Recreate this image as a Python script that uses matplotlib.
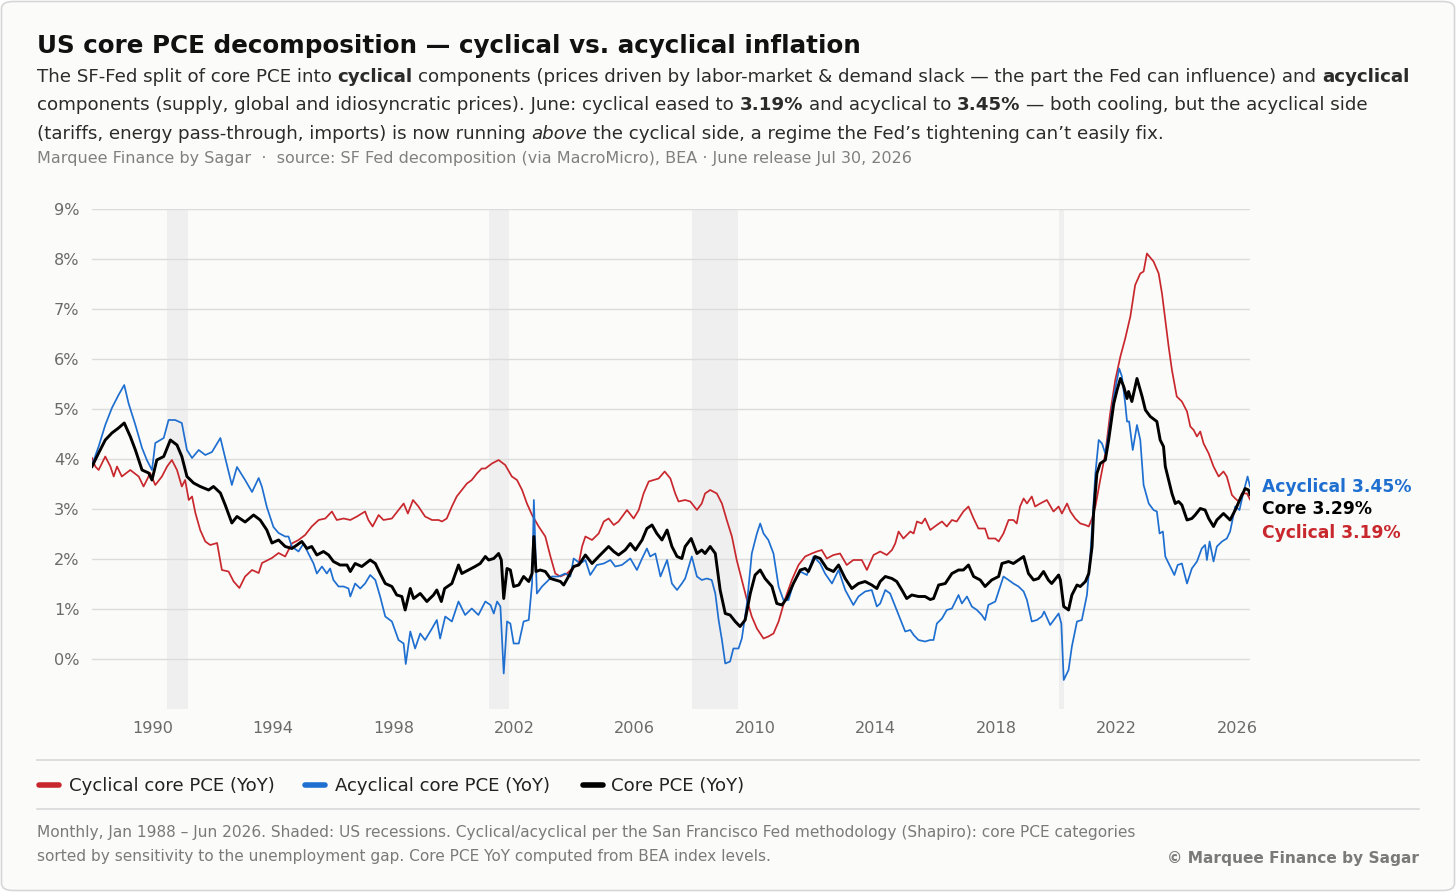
import matplotlib
matplotlib.use("Agg")
import matplotlib.pyplot as plt
from matplotlib.patches import FancyBboxPatch
from matplotlib.lines import Line2D

plt.rcParams["font.family"] = ["DejaVu Sans"]

# ---------------- data ----------------
cyc_years = [
    1988.00, 1988.11, 1988.22, 1988.44, 1988.61, 1988.72, 1988.83, 1988.99, 1989.27, 1989.55, 1989.71, 1989.82, 1989.93,
    1990.10, 1990.32, 1990.49, 1990.65, 1990.82, 1990.98, 1991.09, 1991.21, 1991.32, 1991.43, 1991.59, 1991.76, 1991.92,
    1992.15, 1992.31, 1992.53, 1992.70, 1992.89, 1993.08, 1993.31, 1993.53, 1993.64, 1993.97, 1994.19,
    1994.41, 1994.63, 1994.85, 1995.07, 1995.29, 1995.52, 1995.74, 1995.96, 1996.12, 1996.35, 1996.57, 1996.79, 1997.06,
    1997.17, 1997.31, 1997.51, 1997.67, 1997.95, 1998.17, 1998.34, 1998.48, 1998.65, 1998.83, 1999.05, 1999.28, 1999.50,
    1999.61, 1999.77, 1999.94, 2000.10, 2000.27, 2000.44, 2000.60, 2000.77, 2000.93,
    2001.05, 2001.27, 2001.49, 2001.71, 2001.93, 2002.10, 2002.27, 2002.43, 2002.60, 2002.82, 2003.04, 2003.21, 2003.37,
    2003.54, 2003.76, 2003.93, 2004.15, 2004.26, 2004.37, 2004.59, 2004.81, 2004.98, 2005.14, 2005.31, 2005.47, 2005.75,
    2005.97, 2006.14, 2006.30, 2006.47, 2006.63, 2006.80, 2007.00, 2007.19, 2007.35, 2007.46,
    2007.68, 2007.85, 2008.07, 2008.23, 2008.34, 2008.51, 2008.73, 2008.90, 2009.06, 2009.23, 2009.39, 2009.56, 2009.73,
    2009.89, 2010.06, 2010.28, 2010.44, 2010.61, 2010.78, 2011.00, 2011.22, 2011.44, 2011.66, 2011.88, 2012.05, 2012.21,
    2012.38, 2012.60, 2012.82, 2013.04, 2013.26, 2013.54, 2013.71, 2013.93,
    2014.15, 2014.37, 2014.54, 2014.65, 2014.76, 2014.92, 2015.15, 2015.26, 2015.37, 2015.53, 2015.64, 2015.81, 2016.03,
    2016.20, 2016.36, 2016.53, 2016.69, 2016.91, 2017.08, 2017.25, 2017.41, 2017.63, 2017.74, 2017.97, 2018.08, 2018.24,
    2018.41, 2018.57, 2018.68, 2018.79, 2018.91, 2019.02, 2019.18, 2019.29, 2019.46, 2019.68, 2019.90,
    2020.07, 2020.18, 2020.35, 2020.46, 2020.62, 2020.79, 2020.96, 2021.07, 2021.18, 2021.29, 2021.45, 2021.62, 2021.78,
    2021.95, 2022.12, 2022.28, 2022.45, 2022.61, 2022.78, 2022.89, 2023.00,
    2023.22, 2023.39, 2023.50, 2023.61, 2023.72, 2023.83, 2023.99, 2024.16, 2024.33, 2024.44, 2024.55, 2024.66, 2024.77,
    2024.88, 2025.05, 2025.21, 2025.38, 2025.54, 2025.65, 2025.82, 2025.93, 2026.04, 2026.15, 2026.32, 2026.42,
]
cyc_vals = [
    4.02, 3.85, 3.78, 4.05, 3.85, 3.65, 3.85, 3.65, 3.78, 3.65, 3.45, 3.58, 3.72,
    3.48, 3.65, 3.85, 3.98, 3.78, 3.45, 3.58, 3.18, 3.25, 2.92, 2.58, 2.35, 2.28,
    2.32, 1.78, 1.75, 1.55, 1.42, 1.65, 1.78, 1.72, 1.92, 2.02, 2.12,
    2.05, 2.31, 2.38, 2.48, 2.65, 2.78, 2.81, 2.95, 2.78, 2.81, 2.78, 2.85, 2.95,
    2.78, 2.65, 2.88, 2.78, 2.81, 2.98, 3.11, 2.91, 3.18, 3.05, 2.85, 2.78, 2.78,
    2.75, 2.81, 3.05, 3.25, 3.38, 3.51, 3.58, 3.71, 3.81,
    3.81, 3.91, 3.98, 3.88, 3.65, 3.58, 3.38, 3.11, 2.88, 2.65, 2.45, 2.05, 1.71,
    1.65, 1.71, 1.81, 1.91, 2.25, 2.45, 2.38, 2.51, 2.75, 2.81, 2.68, 2.75, 2.98,
    2.81, 2.98, 3.31, 3.55, 3.58, 3.61, 3.75, 3.61, 3.31, 3.15,
    3.18, 3.15, 2.98, 3.11, 3.31, 3.38, 3.31, 3.11, 2.78, 2.45, 1.98, 1.58, 1.18,
    0.85, 0.61, 0.41, 0.45, 0.51, 0.75, 1.21, 1.58, 1.88, 2.05, 2.11, 2.15, 2.18,
    2.01, 2.08, 2.11, 1.88, 1.98, 1.98, 1.78, 2.08,
    2.15, 2.08, 2.18, 2.31, 2.55, 2.41, 2.55, 2.51, 2.75, 2.71, 2.81, 2.58, 2.68,
    2.75, 2.65, 2.78, 2.75, 2.95, 3.05, 2.81, 2.61, 2.61, 2.41, 2.41, 2.35, 2.51,
    2.78, 2.78, 2.71, 3.05, 3.21, 3.11, 3.25, 3.05, 3.11, 3.18, 2.95,
    3.05, 2.91, 3.11, 2.95, 2.81, 2.71, 2.68, 2.65, 2.81, 3.05, 3.58, 4.11, 4.91,
    5.58, 6.05, 6.41, 6.85, 7.48, 7.71, 7.75, 8.11,
    7.95, 7.71, 7.31, 6.78, 6.25, 5.78, 5.25, 5.15, 4.95, 4.65, 4.58, 4.45, 4.55,
    4.31, 4.11, 3.85, 3.65, 3.75, 3.65, 3.28, 3.21, 3.15, 3.31, 3.31, 3.19,
]

acyc_years = [
    1988.00, 1988.22, 1988.44, 1988.66, 1988.88, 1989.07, 1989.21, 1989.44, 1989.66, 1989.82, 1989.99, 1990.10, 1990.38,
    1990.54, 1990.76, 1990.98, 1991.15, 1991.32, 1991.54, 1991.76, 1991.98, 1992.26, 1992.42, 1992.64, 1992.81, 1993.08,
    1993.31, 1993.53, 1993.64, 1993.80, 1994.02, 1994.19,
    1994.41, 1994.52, 1994.63, 1994.85, 1995.02, 1995.18, 1995.35, 1995.46, 1995.63, 1995.79, 1995.90, 1996.01, 1996.18,
    1996.35, 1996.51, 1996.57, 1996.73, 1996.90, 1997.06, 1997.23, 1997.40, 1997.56, 1997.73, 1997.95, 1998.17, 1998.34,
    1998.41, 1998.56, 1998.72, 1998.89, 1999.05, 1999.28, 1999.44, 1999.55, 1999.72, 1999.94, 2000.16, 2000.38, 2000.60,
    2000.82,
    2001.05, 2001.22, 2001.33, 2001.44, 2001.55, 2001.66, 2001.77, 2001.88, 2001.99, 2002.16, 2002.32, 2002.49, 2002.60,
    2002.66, 2002.76, 2002.93, 2003.10, 2003.26, 2003.48, 2003.70, 2003.87, 2003.98, 2004.20, 2004.37, 2004.53, 2004.75,
    2004.98, 2005.20, 2005.36, 2005.58, 2005.86, 2006.08, 2006.25, 2006.41, 2006.52, 2006.69, 2006.86, 2007.08, 2007.24,
    2007.41, 2007.57,
    2007.68, 2007.90, 2008.07, 2008.23, 2008.40, 2008.56, 2008.68, 2008.79, 2008.90, 2009.01, 2009.17, 2009.28, 2009.45,
    2009.56, 2009.73, 2009.89, 2010.06, 2010.17, 2010.28, 2010.44, 2010.61, 2010.78, 2010.94, 2011.11, 2011.27, 2011.50,
    2011.72, 2011.94, 2012.16, 2012.32, 2012.55, 2012.77, 2012.99, 2013.26, 2013.43, 2013.65, 2013.87, 2014.04,
    2014.15, 2014.32, 2014.48, 2014.65, 2014.81, 2014.98, 2015.15, 2015.26, 2015.42, 2015.64, 2015.81, 2015.92, 2016.03,
    2016.20, 2016.36, 2016.53, 2016.75, 2016.86, 2017.03, 2017.19, 2017.36, 2017.52, 2017.63, 2017.74, 2017.97, 2018.13,
    2018.24, 2018.41, 2018.57, 2018.74, 2018.91, 2019.02, 2019.18, 2019.35, 2019.51, 2019.59, 2019.79,
    2020.07, 2020.16, 2020.24, 2020.40, 2020.51, 2020.68, 2020.84, 2021.01, 2021.12, 2021.29, 2021.40, 2021.51, 2021.62,
    2021.73, 2021.90, 2022.08, 2022.17, 2022.28, 2022.34, 2022.41, 2022.53, 2022.67, 2022.78, 2022.89, 2023.06,
    2023.22, 2023.33, 2023.42, 2023.53, 2023.61, 2023.77, 2023.91, 2024.02, 2024.16, 2024.33, 2024.49, 2024.66, 2024.82,
    2024.93, 2024.99, 2025.08, 2025.21, 2025.32, 2025.49, 2025.65, 2025.76, 2025.93, 2026.07, 2026.21, 2026.34, 2026.42,
]
acyc_vals = [
    3.88, 4.25, 4.68, 5.02, 5.28, 5.48, 5.12, 4.68, 4.22, 3.98, 3.78, 4.32, 4.42,
    4.78, 4.78, 4.72, 4.18, 4.02, 4.18, 4.08, 4.14, 4.42, 4.02, 3.48, 3.84, 3.58,
    3.34, 3.62, 3.44, 3.04, 2.64, 2.52,
    2.45, 2.45, 2.25, 2.15, 2.31, 2.11, 1.91, 1.71, 1.85, 1.71, 1.81, 1.58, 1.45,
    1.45, 1.41, 1.25, 1.51, 1.41, 1.51, 1.68, 1.58, 1.25, 0.85, 0.75, 0.38, 0.31,
    -0.10, 0.55, 0.21, 0.51, 0.38, 0.61, 0.78, 0.41, 0.85, 0.75, 1.15, 0.88, 1.01,
    0.88,
    1.15, 1.08, 0.91, 1.15, 1.05, -0.29, 0.75, 0.71, 0.31, 0.31, 0.75, 0.78, 1.51,
    3.18, 1.31, 1.45, 1.55, 1.65, 1.65, 1.71, 1.65, 2.01, 1.91, 1.98, 1.68, 1.88,
    1.91, 1.98, 1.85, 1.88, 2.01, 1.78, 2.01, 2.21, 2.05, 2.11, 1.65, 1.98, 1.51,
    1.38, 1.51,
    1.61, 2.05, 1.65, 1.58, 1.61, 1.58, 1.31, 0.78, 0.38, -0.09, -0.05, 0.21, 0.21,
    0.41, 1.11, 2.11, 2.51, 2.71, 2.51, 2.38, 2.11, 1.45, 1.18, 1.18, 1.51, 1.75,
    1.68, 2.05, 1.91, 1.71, 1.51, 1.78, 1.38, 1.08, 1.25, 1.35, 1.38, 1.05,
    1.11, 1.38, 1.31, 1.05, 0.81, 0.55, 0.58, 0.48, 0.38, 0.35, 0.38, 0.38, 0.71,
    0.81, 0.98, 1.01, 1.28, 1.11, 1.25, 1.05, 0.98, 0.88, 0.78, 1.08, 1.15, 1.45,
    1.65, 1.58, 1.51, 1.45, 1.35, 1.18, 0.75, 0.78, 0.85, 0.95, 0.68,
    0.91, 0.71, -0.42, -0.22, 0.25, 0.75, 0.78, 1.28, 2.05, 3.71, 4.38, 4.31, 4.11,
    4.51, 5.25, 5.81, 5.65, 5.11, 4.75, 4.75, 4.18, 4.68, 4.38, 3.48, 3.11,
    2.98, 2.95, 2.51, 2.55, 2.05, 1.85, 1.68, 1.88, 1.91, 1.51, 1.81, 1.95, 2.21,
    2.28, 1.98, 2.35, 1.95, 2.25, 2.35, 2.41, 2.55, 3.05, 2.98, 3.35, 3.65, 3.45,
]

core_years = [
    1988.00, 1988.22, 1988.44, 1988.66, 1988.88, 1989.07, 1989.27, 1989.44, 1989.66, 1989.88, 1989.99, 1990.15, 1990.38,
    1990.60, 1990.82, 1990.98, 1991.15, 1991.37, 1991.59, 1991.87, 1992.03, 1992.26, 1992.42, 1992.64, 1992.81, 1993.08,
    1993.36, 1993.58, 1993.80, 1993.97, 1994.19,
    1994.41, 1994.63, 1994.80, 1994.96, 1995.13, 1995.29, 1995.46, 1995.68, 1995.85, 1996.01, 1996.23, 1996.46, 1996.57,
    1996.73, 1996.95, 1997.23, 1997.40, 1997.56, 1997.73, 1997.95, 1998.11, 1998.28, 1998.39, 1998.56, 1998.67, 1998.89,
    1999.11, 1999.33, 1999.44, 1999.59, 1999.70, 1999.94, 2000.16, 2000.27, 2000.49, 2000.71, 2000.88,
    2001.05, 2001.16, 2001.33, 2001.49, 2001.58, 2001.66, 2001.77, 2001.88, 2001.99, 2002.16, 2002.32, 2002.49, 2002.60,
    2002.66, 2002.73, 2002.87, 2003.04, 2003.21, 2003.37, 2003.54, 2003.65, 2003.81, 2003.98, 2004.15, 2004.37, 2004.59,
    2004.81, 2005.14, 2005.31, 2005.47, 2005.69, 2005.86, 2006.03, 2006.25, 2006.41, 2006.58, 2006.74, 2006.91, 2007.08,
    2007.24, 2007.41, 2007.57,
    2007.68, 2007.88, 2008.07, 2008.23, 2008.34, 2008.51, 2008.68, 2008.84, 2009.01, 2009.17, 2009.34, 2009.50, 2009.67,
    2009.84, 2010.00, 2010.17, 2010.33, 2010.56, 2010.72, 2010.89, 2011.05, 2011.27, 2011.50, 2011.66, 2011.77, 2011.99,
    2012.16, 2012.38, 2012.60, 2012.77, 2012.99, 2013.21, 2013.43, 2013.65, 2013.87, 2014.04,
    2014.15, 2014.32, 2014.54, 2014.70, 2014.87, 2015.03, 2015.20, 2015.42, 2015.64, 2015.81, 2015.92, 2016.09, 2016.31,
    2016.53, 2016.75, 2016.91, 2017.08, 2017.25, 2017.47, 2017.63, 2017.85, 2018.08, 2018.19, 2018.41, 2018.57, 2018.74,
    2018.91, 2019.07, 2019.24, 2019.40, 2019.57, 2019.73, 2019.84,
    2020.07, 2020.13, 2020.24, 2020.40, 2020.51, 2020.68, 2020.79, 2020.96, 2021.07, 2021.18, 2021.23, 2021.34, 2021.45,
    2021.62, 2021.73, 2021.90, 2022.01, 2022.12, 2022.23, 2022.34, 2022.39, 2022.50, 2022.67, 2022.84, 2022.95,
    2023.11, 2023.33, 2023.44, 2023.55, 2023.61, 2023.72, 2023.83, 2023.94, 2024.05, 2024.16, 2024.33, 2024.49, 2024.60,
    2024.77, 2024.93, 2025.05, 2025.21, 2025.32, 2025.54, 2025.76, 2025.93, 2026.10, 2026.26, 2026.37, 2026.42,
]
core_vals = [
    3.85, 4.12, 4.38, 4.52, 4.62, 4.72, 4.45, 4.18, 3.78, 3.72, 3.58, 3.98, 4.05,
    4.38, 4.28, 4.05, 3.65, 3.52, 3.45, 3.38, 3.45, 3.32, 3.08, 2.72, 2.85, 2.74,
    2.88, 2.78, 2.58, 2.32, 2.38,
    2.25, 2.21, 2.28, 2.35, 2.21, 2.25, 2.08, 2.15, 2.08, 1.95, 1.88, 1.88, 1.75,
    1.91, 1.85, 1.98, 1.91, 1.71, 1.51, 1.45, 1.28, 1.25, 0.98, 1.41, 1.21, 1.31,
    1.15, 1.28, 1.38, 1.15, 1.41, 1.51, 1.88, 1.71, 1.78, 1.85, 1.91,
    2.05, 1.98, 2.01, 2.11, 1.98, 1.21, 1.81, 1.78, 1.45, 1.48, 1.65, 1.55, 1.71,
    2.45, 1.75, 1.78, 1.75, 1.61, 1.58, 1.55, 1.48, 1.65, 1.85, 1.88, 2.08, 1.91,
    2.05, 2.25, 2.15, 2.08, 2.18, 2.31, 2.18, 2.38, 2.61, 2.68, 2.51, 2.38, 2.58,
    2.25, 2.05, 2.01,
    2.25, 2.41, 2.11, 2.18, 2.11, 2.25, 2.11, 1.38, 0.91, 0.88, 0.75, 0.65, 0.78,
    1.31, 1.68, 1.78, 1.61, 1.45, 1.11, 1.08, 1.21, 1.51, 1.78, 1.81, 1.75, 2.05,
    2.01, 1.81, 1.75, 1.88, 1.61, 1.41, 1.51, 1.55, 1.48, 1.41,
    1.55, 1.65, 1.61, 1.55, 1.38, 1.21, 1.28, 1.25, 1.25, 1.19, 1.21, 1.48, 1.51,
    1.71, 1.78, 1.78, 1.88, 1.65, 1.58, 1.45, 1.58, 1.65, 1.91, 1.95, 1.91, 1.98,
    2.05, 1.71, 1.58, 1.61, 1.75, 1.58, 1.51,
    1.68, 1.58, 1.05, 0.98, 1.28, 1.48, 1.45, 1.55, 1.71, 2.25, 2.91, 3.71, 3.91,
    3.98, 4.38, 5.11, 5.38, 5.61, 5.45, 5.21, 5.35, 5.15, 5.61, 5.25, 4.98,
    4.85, 4.75, 4.38, 4.25, 3.85, 3.58, 3.31, 3.11, 3.15, 3.08, 2.78, 2.81, 2.88,
    3.01, 2.98, 2.81, 2.65, 2.78, 2.91, 2.78, 2.98, 3.21, 3.41, 3.38, 3.29,
]

recessions = [(1990.50, 1991.17), (2001.17, 2001.83), (2007.92, 2009.42), (2020.08, 2020.25)]
y_ticks = [0, 1, 2, 3, 4, 5, 6, 7, 8, 9]
x_ticks = [1990, 1994, 1998, 2002, 2006, 2010, 2014, 2018, 2022, 2026]

series_names = ["Cyclical core PCE (YoY)", "Acyclical core PCE (YoY)", "Core PCE (YoY)"]
end_names = ["Cyclical", "Acyclical", "Core"]

RED = "#c8282d"
BLUE = "#1f6fd1"
BLACK = "#000000"

# ---------------- figure ----------------
W, H = 1456, 892
fig = plt.figure(figsize=(W / 100, H / 100), dpi=100)
fig.patch.set_facecolor("white")
card = FancyBboxPatch((1.5 / W, 1.5 / H), (W - 3) / W, (H - 3) / H,
                      boxstyle="round,pad=0,rounding_size=0.008",
                      transform=fig.transFigure, facecolor="#fbfbf9",
                      edgecolor="#d6d6d6", lw=1.2, zorder=-10)
fig.patches.append(card)


def fx(px):
    return px / W


def fy(py):
    return 1 - py / H


renderer = fig.canvas.get_renderer()


def text_width(s, **kw):
    t = fig.text(0, 0, s, **kw)
    w = t.get_window_extent(renderer).width
    t.remove()
    return w


def rich_line(x_px, y_px, segments, size, color):
    x = x_px
    for s, weight, style in segments:
        kw = dict(fontsize=size, fontweight=weight, fontstyle=style)
        wsp = text_width("x x", **kw) - text_width("xx", **kw)
        lead = len(s) - len(s.lstrip(" "))
        trail = len(s) - len(s.rstrip(" "))
        core = s.strip(" ")
        x += lead * wsp
        t = fig.text(fx(x), fy(y_px), core, color=color, va="baseline", ha="left", **kw)
        x += t.get_window_extent(renderer).width + trail * wsp


# title / subtitle
fig.text(fx(37), fy(52.5), "US core PCE decomposition \u2014 cyclical vs. acyclical inflation",
         fontsize=17.74, fontweight="bold", color="#111111", va="baseline", ha="left")
N, B, I = ("normal", "normal"), ("bold", "normal"), ("normal", "italic")
sub_size = 13.13
sub_col = "#2b2b2b"
rich_line(37, 82, [("The SF-Fed split of core PCE into ", *N), ("cyclical", *B),
                   (" components (prices driven by labor-market & demand slack \u2014 the part the Fed can influence) and ", *N),
                   ("acyclical", *B)], sub_size, sub_col)
rich_line(37, 110.5, [("components (supply, global and idiosyncratic prices). June: cyclical eased to ", *N),
                      ("3.19%", *B), (" and acyclical to ", *N), ("3.45%", *B),
                      (" \u2014 both cooling, but the acyclical side", *N)], sub_size, sub_col)
rich_line(37, 139, [("(tariffs, energy pass-through, imports) is now running ", *N), ("above", *I),
                    (" the cyclical side, a regime the Fed\u2019s tightening can\u2019t easily fix.", *N)],
          sub_size, sub_col)
fig.text(fx(37), fy(163.5),
         "Marquee Finance by Sagar  \u00b7  source: SF Fed decomposition (via MacroMicro), BEA \u00b7 June release Jul 30, 2026",
         fontsize=11.55, color="#808080", va="baseline", ha="left")

# ---------------- axes ----------------
ax = fig.add_axes([fx(92), fy(709), (1250 - 92) / W, (709 - 209) / H])
ax.set_facecolor("none")
for s in ax.spines.values():
    s.set_visible(False)
ax.set_xlim(1988.0, 2026.42)
ax.set_ylim(-1, 9)
ax.set_yticks(y_ticks)
ax.set_yticklabels([f"{v}%" for v in y_ticks])
ax.set_xticks(x_ticks)
ax.set_xticklabels([str(v) for v in x_ticks])
ax.tick_params(axis="both", length=0, colors="#6b6b6b", labelsize=11.6)
ax.tick_params(axis="y", pad=9)
ax.tick_params(axis="x", pad=8.5)
ax.yaxis.grid(True, color="#dcdcdc", lw=1.0)
ax.xaxis.grid(False)
ax.set_axisbelow(True)

for a, b in recessions:
    ax.axvspan(a, b, color="#efefef", lw=0, zorder=0)

ax.plot(cyc_years, cyc_vals, color=RED, lw=1.25, zorder=3, solid_joinstyle="round")
ax.plot(acyc_years, acyc_vals, color=BLUE, lw=1.25, zorder=3, solid_joinstyle="round")
ax.plot(core_years, core_vals, color=BLACK, lw=2.1, zorder=4, solid_joinstyle="round")

# end labels, de-overlapped
ends = [
    (acyc_years[-1], acyc_vals[-1], end_names[1], BLUE),
    (core_years[-1], core_vals[-1], end_names[2], BLACK),
    (cyc_years[-1], cyc_vals[-1], end_names[0], RED),
]
ends.sort(key=lambda e: -e[1])
gap = 0.46
prev = None
for xe, ve, name, col in ends:
    ylab = ve if prev is None else min(ve, prev - gap)
    prev = ylab
    ax.annotate(f"{name} {ve:.2f}%", xy=(xe, ylab), xytext=(9, 0), textcoords="offset points",
                va="center", ha="left", fontsize=12.3, fontweight="bold", color=col,
                annotation_clip=False)

# ---------------- legend ----------------
fig.add_artist(Line2D([fx(37), fx(1419)], [fy(760), fy(760)], color="#d9d9d9", lw=1.2))
fig.add_artist(Line2D([fx(37), fx(1419)], [fy(809), fy(809)], color="#d9d9d9", lw=1.2))
leg_items = [(series_names[0], RED, 39, 69), (series_names[1], BLUE, 305, 335), (series_names[2], BLACK, 583, 611)]
for name, col, x0, xt in leg_items:
    fig.add_artist(Line2D([fx(x0), fx(x0 + 20)], [fy(785), fy(785)], color=col, lw=4.0,
                          solid_capstyle="round"))
    fig.text(fx(xt), fy(791), name, fontsize=13.1, color="#222222", va="baseline", ha="left")

# ---------------- footnote ----------------
fig.text(fx(37), fy(837),
         "Monthly, Jan 1988 \u2013 Jun 2026. Shaded: US recessions. Cyclical/acyclical per the San Francisco Fed methodology (Shapiro): core PCE categories",
         fontsize=11.1, color="#7a7a7a", va="baseline", ha="left")
fig.text(fx(37), fy(861),
         "sorted by sensitivity to the unemployment gap. Core PCE YoY computed from BEA index levels.",
         fontsize=11.1, color="#7a7a7a", va="baseline", ha="left")
fig.text(fx(1419), fy(863), "\u00a9 Marquee Finance by Sagar", fontsize=11.05, fontweight="bold",
         color="#7a7a7a", va="baseline", ha="right")

fig.savefig("out.png", dpi=100, facecolor=fig.get_facecolor())
